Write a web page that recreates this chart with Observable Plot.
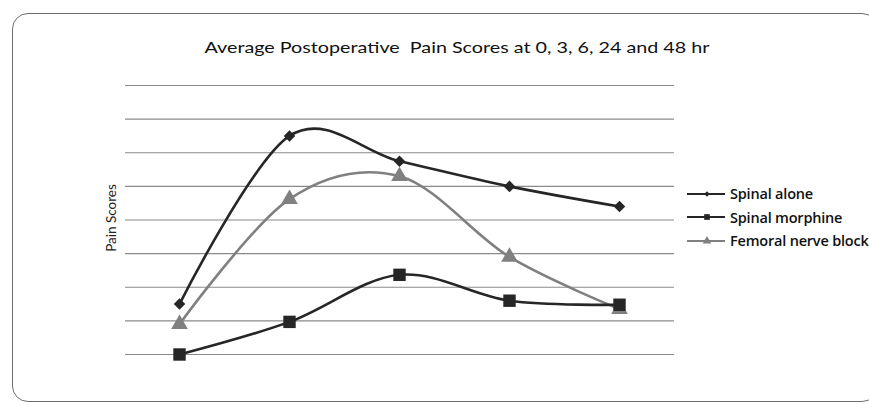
<!DOCTYPE html>
<html>
<head>
<meta charset="utf-8">
<script src="https://cdn.jsdelivr.net/npm/d3@7"></script>
<script src="https://cdn.jsdelivr.net/npm/@observablehq/plot@0.6"></script>
<style>
  html, body { margin: 0; padding: 0; background: #fff; }
  #wrap { position: relative; width: 869px; height: 405px; overflow: hidden; font-family: Lato, "Open Sans", sans-serif; }
  #frame { position: absolute; left: 12px; top: 13px; width: 866px; height: 389px; border: 1.5px solid #6e6e6e; border-radius: 16px; box-sizing: border-box; }
  #title { position: absolute; left: 457px; top: 37px; font-size: 16px; color: #111; white-space: nowrap; transform-origin: 0 0; }
  #ylabel { position: absolute; left: 111px; top: 218px; transform: translate(-50%, -50%) rotate(-90deg); font-size: 13.5px; color: #222; white-space: nowrap; }
  #plot { position: absolute; left: 0; top: 0; }
  #legend { position: absolute; left: 686px; top: 182px; font-family: "Open Sans", sans-serif; font-weight: 600; font-size: 14.5px; letter-spacing: -0.2px; color: #111; }
  .row { display: flex; align-items: center; height: 23.5px; white-space: nowrap; }
  .row svg { margin-right: 4px; }
</style>
</head>
<body>
<div id="wrap">
  <div id="frame"></div>
  <div id="title">Average Postoperative&nbsp; Pain Scores at 0, 3, 6, 24 and 48 hr</div>
  <div id="ylabel">Pain Scores</div>
  <div id="plot"></div>
  <div id="legend"></div>
</div>
<script>
const times = ["0 hr", "3 hr", "6 hr", "24 hr", "48 hr"];
const seriesNames = ["Spinal alone", "Spinal morphine", "Femoral nerve block"];
const spinalAlone = [1.5, 6.5, 5.75, 5.0, 4.4];
const spinalMorphine = [0.0, 0.97, 2.37, 1.6, 1.48];
const femoralBlock = [0.9, 4.62, 5.3, 2.9, 1.35];
const gridValues = [0, 1, 2, 3, 4, 5, 6, 7, 8];

const colors = { "Spinal alone": "#262626", "Spinal morphine": "#262626", "Femoral nerve block": "#808080" };
const symbols = { "Spinal alone": "diamond2", "Spinal morphine": "square", "Femoral nerve block": "triangle" };
const radii = { "Spinal alone": 5.2, "Spinal morphine": 7, "Femoral nerve block": 6.2 };

const valuesBySeries = [spinalAlone, spinalMorphine, femoralBlock];
const data = seriesNames.flatMap((s, i) => times.map((t, j) => ({ series: s, time: t, value: valuesBySeries[i][j] })));

const lineMarks = seriesNames.map(s => Plot.line(data.filter(d => d.series === s), {
  x: "time", y: "value", stroke: colors[s], strokeWidth: 2.6, curve: "cardinal"
}));
const dotMarks = seriesNames.map(s => Plot.dot(data.filter(d => d.series === s), {
  x: "time", y: "value", fill: colors[s], stroke: "none", symbol: () => symbols[s], r: radii[s]
}));

const chart = Plot.plot({
  width: 869,
  height: 405,
  marginTop: 85,
  marginBottom: 51,
  marginLeft: 125,
  marginRight: 195,
  x: { type: "point", domain: times, range: [178.5, 618.5], padding: 0, axis: null },
  y: { domain: [0, 8], axis: null },
  symbol: { type: "identity" },
  style: { background: "transparent" },
  marks: [
    Plot.ruleY(gridValues, { stroke: "#8a8a8a", strokeWidth: 1.2 }),
    lineMarks[2], lineMarks[0], lineMarks[1],
    dotMarks[2], dotMarks[0], dotMarks[1]
  ]
});
document.getElementById("plot").appendChild(chart);

// stretch title to the reference's width, centred
const title = document.getElementById("title");
const tw = title.getBoundingClientRect().width;
const sx = 505 / tw;
title.style.transform = `translateX(${-252.5}px) scaleX(${sx})`;

// legend
const legend = d3.select("#legend");
seriesNames.forEach(s => {
  const row = legend.append("div").attr("class", "row");
  const svg = row.append("svg").attr("width", 40).attr("height", 14);
  svg.append("line").attr("x1", 1).attr("x2", 39).attr("y1", 7).attr("y2", 7)
    .attr("stroke", colors[s]).attr("stroke-width", 1.8);
  const sym = { diamond2: d3.symbolDiamond2, square: d3.symbolSquare, triangle: d3.symbolTriangle }[symbols[s]];
  const size = s === "Spinal alone" ? 20 : 32;
  svg.append("path").attr("d", d3.symbol(sym, size)()).attr("transform", "translate(21,7)").attr("fill", colors[s]);
  row.append("span").text(s);
});
</script>
</body>
</html>
